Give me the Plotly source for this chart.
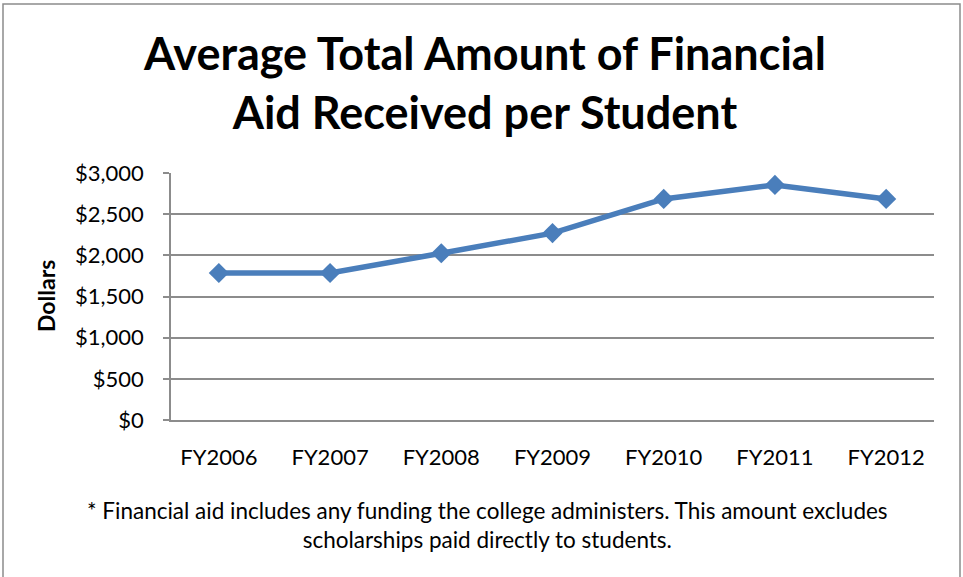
import plotly.graph_objects as go

# Data
years = ["FY2006", "FY2007", "FY2008", "FY2009", "FY2010", "FY2011", "FY2012"]
avg_aid = [1785, 1785, 2025, 2270, 2685, 2855, 2685]

tick_vals = [0, 500, 1000, 1500, 2000, 2500, 3000]
tick_text = ["$0", "$500", "$1,000", "$1,500", "$2,000", "$2,500", "$3,000"]

title_text = "Average Total Amount of Financial<br>Aid Received per Student"
note_text = ("* Financial aid includes any funding the college administers. "
             "This amount excludes<br>scholarships paid directly to students.")

FONT = "Lato"
BLUE = "#4A7EBB"
GRID = "#8C8C8C"

W, H = 963, 577
L, R, T, B = 171, 29, 173, 157
pw, ph = W - L - R, H - T - B


def px_x(x):
    return (x - L) / pw


def px_y(y):
    return (H - B - y) / ph


fig = go.Figure()
fig.add_trace(go.Scatter(
    x=years, y=avg_aid, mode="lines+markers",
    line=dict(color=BLUE, width=5.5),
    marker=dict(symbol="diamond", size=15.5, color=BLUE),
    showlegend=False,
))

# outer chart border (Excel style)
fig.add_shape(type="rect", xref="paper", yref="paper",
              x0=px_x(3), x1=px_x(960), y0=px_y(590), y1=px_y(4),
              line=dict(color="#8C8C8C", width=1.5), layer="below")

fig.add_annotation(text=title_text, xref="paper", yref="paper",
                   x=px_x(484), y=px_y(83), showarrow=False,
                   font=dict(family=FONT, size=45, color="black", weight="bold"),
                   xanchor="center", yanchor="middle")

fig.add_annotation(text="<b>Dollars</b>", xref="paper", yref="paper",
                   x=px_x(46), y=px_y(296), showarrow=False, textangle=-90,
                   font=dict(family=FONT, size=23, color="black"),
                   xanchor="center", yanchor="middle")

fig.add_annotation(text=note_text, xref="paper", yref="paper",
                   x=px_x(487), y=px_y(525), showarrow=False,
                   font=dict(family=FONT, size=22.5, color="black"),
                   xanchor="center", yanchor="middle")

fig.update_layout(
    width=W, height=H,
    margin=dict(l=L, r=R, t=T, b=B, autoexpand=False),
    paper_bgcolor="white", plot_bgcolor="white",
    font=dict(family=FONT, color="black"),
    xaxis=dict(showline=True, linecolor=GRID, linewidth=1.5,
               showgrid=False, ticks="", tickfont=dict(size=22),
               ticklabelstandoff=17),
    yaxis=dict(range=[0, 3000], tickvals=tick_vals, ticktext=tick_text,
               showline=True, linecolor=GRID, linewidth=1.5,
               showgrid=True, gridcolor=GRID, gridwidth=1.5,
               ticks="outside", ticklen=6, tickcolor=GRID, tickwidth=1.5,
               tickfont=dict(size=22), ticklabelstandoff=15),
)

fig.write_html("out.html", config={"displayModeBar": False},
               post_script="document.body.style.margin='0';")
